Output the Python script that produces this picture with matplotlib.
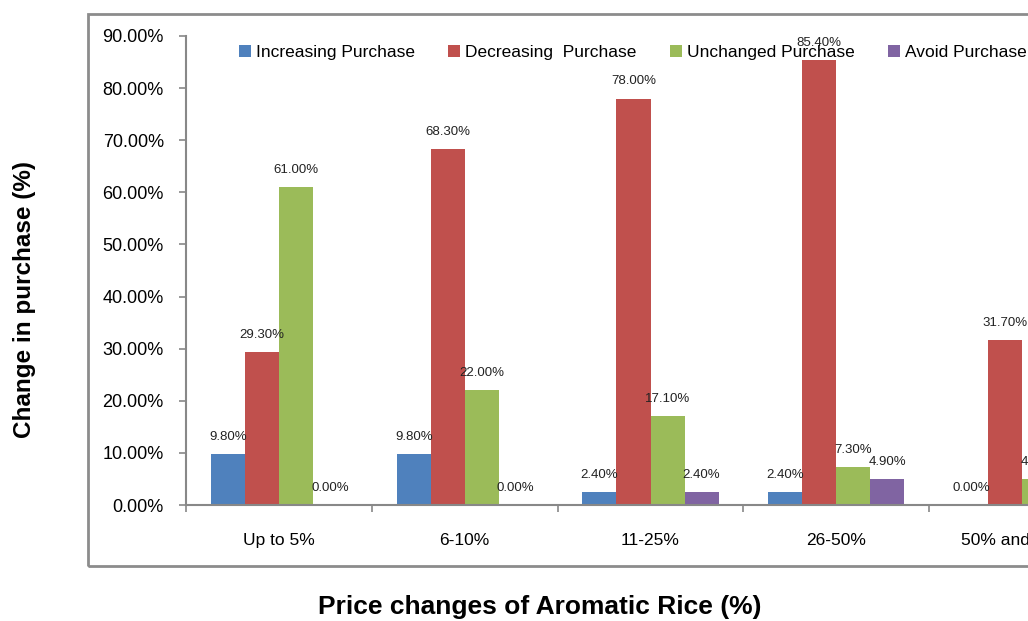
import numpy as np
import matplotlib
matplotlib.use("Agg")
import matplotlib.pyplot as plt
from matplotlib.patches import Rectangle

# data
categories = ["Up to 5%", "6-10%", "11-25%", "26-50%", "50% and above"]
series_names = ["Increasing Purchase", "Decreasing  Purchase", "Unchanged Purchase", "Avoid Purchase"]
increasing = [9.8, 9.8, 2.4, 2.4, 0.0]
decreasing = [29.3, 68.3, 78.0, 85.4, 31.7]
unchanged = [61.0, 22.0, 17.1, 7.3, 4.9]
avoid = [0.0, 0.0, 2.4, 4.9, 63.4]
colors = ["#4F81BD", "#C0504D", "#9BBB59", "#8064A2"]

plt.rcParams["font.family"] = ["Liberation Sans", "DejaVu Sans"]

fig = plt.figure(figsize=(10.28, 6.21), dpi=100)
W, H = 1028, 621
# plot area runs past the right edge, like the cropped original
ax = fig.add_axes([186 / W, 1 - 505 / H, 929 / W, 469 / H])

# outer chart border (also cut off at the right)
fig.patches.append(Rectangle((88 / W, 1 - 566 / H), 2.0, 552 / H, transform=fig.transFigure,
                             fill=False, edgecolor="#8c8c8c", linewidth=2))

x = np.arange(len(categories))
bw = 0.183
all_series = [increasing, decreasing, unchanged, avoid]
for i, vals in enumerate(all_series):
    pos = x + (i - 1.5) * bw
    ax.bar(pos, vals, width=bw, color=colors[i], label=series_names[i], zorder=2)
    for px, v in zip(pos, vals):
        ax.annotate(f"{v:.2f}%", (px, v), xytext=(0, 8), textcoords="offset points",
                    ha="center", va="bottom", fontsize=9.5, color="#222222")

ax.set_xlim(-0.5, len(categories) - 0.5)
ax.set_ylim(0, 90)
ax.set_yticks(np.arange(0, 91, 10))
ax.set_yticklabels([f"{t:.2f}%" for t in np.arange(0, 91, 10)], fontsize=13)
ax.set_xticks(x)
ax.set_xticklabels(categories, fontsize=12.5)
ax.set_xticks(np.arange(-0.5, len(categories), 1), minor=True)
ax.tick_params(axis="x", which="major", length=0, pad=20)
ax.tick_params(axis="x", which="minor", length=5, direction="out", color="#888888", width=1.2)
ax.tick_params(axis="y", length=5, direction="out", color="#888888", width=1.2, pad=11)

for s in ["top", "right"]:
    ax.spines[s].set_visible(False)
for s in ["left", "bottom"]:
    ax.spines[s].set_color("#888888")
    ax.spines[s].set_linewidth(1.5)

ax.legend(loc="upper left", bbox_to_anchor=(0.04, 1.015), ncol=4, frameon=False,
          handlelength=0.7, handleheight=0.7, handletextpad=0.3, columnspacing=1.9,
          prop={"size": 12.5})

fig.text(25 / W, 1 - 300 / H, "Change in purchase (%)", rotation=90, ha="center", va="center",
         fontsize=17.5, fontweight="bold")
fig.text(540 / W, 1 - 607 / H, "Price changes of Aromatic Rice (%)", ha="center", va="center",
         fontsize=19, fontweight="bold")

fig.savefig("out.png", dpi=100)
